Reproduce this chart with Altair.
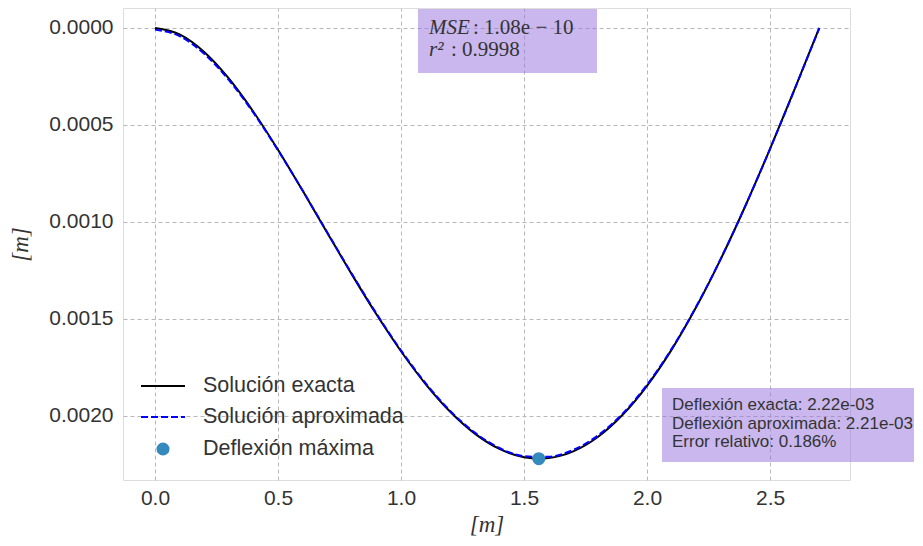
import altair as alt
import pandas as pd

# ---- data ----
x_vals = [0.0, 0.1, 0.2, 0.3, 0.4, 0.5, 0.6, 0.7, 0.8, 0.9, 1.0, 1.1, 1.2, 1.3, 1.4,
          1.5, 1.562, 1.6, 1.7, 1.8, 1.9, 2.0, 2.1, 2.2, 2.3, 2.4, 2.5, 2.6, 2.7]
exact_vals = [0.0, 0.0000330, 0.0001237, 0.0002603, 0.0004316, 0.0006275, 0.0008382,
              0.0010550, 0.0012700, 0.0014759, 0.0016662, 0.0018353, 0.0019783, 0.0020909,
              0.0021698, 0.0022125, 0.0022199, 0.0022171, 0.0021825, 0.0021084, 0.0019953,
              0.0018446, 0.0016581, 0.0014387, 0.0011900, 0.0009162, 0.0006226, 0.0003150, 0.0]
approx_vals = [0.0000080, 0.0000420, 0.0001330, 0.0002680, 0.0004370, 0.0006300, 0.0008380,
               0.0010530, 0.0012670, 0.0014720, 0.0016620, 0.0018310, 0.0019740, 0.0020860,
               0.0021650, 0.0022070, 0.0022110, 0.0022100, 0.0021750, 0.0021010, 0.0019890,
               0.0018390, 0.0016540, 0.0014360, 0.0011890, 0.0009160, 0.0006230, 0.0003160, 0.0000010]
max_x = [1.56]
max_y = [0.00222]

x_ticks = [0.0, 0.5, 1.0, 1.5, 2.0, 2.5]
y_ticks = [0.0, 0.0005, 0.0010, 0.0015, 0.0020]

legend_labels = ["Solución exacta", "Solución aproximada", "Deflexión máxima"]
stats_lines = ["Deflexión exacta: 2.22e-03", "Deflexión aproximada: 2.21e-03", "Error relativo: 0.186%"]

df_exact = pd.DataFrame({"x": x_vals, "y": exact_vals})
df_approx = pd.DataFrame({"x": x_vals, "y": approx_vals})
df_max = pd.DataFrame({"x": max_x, "y": max_y})

W, H = 727, 472
FONT = "Liberation Sans"
SERIF = "Liberation Serif"
TXT = "#333333"

xscale = alt.Scale(domain=[-0.13, 2.825], nice=False, zero=False)
yscale = alt.Scale(domain=[-0.000103, 0.00233], nice=False, zero=False, reverse=True)

xaxis = alt.Axis(values=x_ticks, format=".1f", title="[m]", grid=True, domain=False, ticks=False,
                 labelFontSize=21, labelFont=FONT, labelColor=TXT, labelPadding=7,
                 titleFont=SERIF, titleFontSize=23, titleFontWeight="normal", titleFontStyle="italic",
                 titleColor=TXT, titleY=44, titleBaseline="middle",
                 gridColor="#b8b8b8", gridDash=[4, 3], gridWidth=1)
yaxis = alt.Axis(values=y_ticks, format=".4f", title="[m]", grid=True, domain=False, ticks=False,
                 labelFontSize=21, labelFont=FONT, labelColor=TXT, labelPadding=10,
                 titleFont=SERIF, titleFontSize=23, titleFontWeight="normal", titleFontStyle="italic",
                 titleColor=TXT, titleX=-103, titleY=236, titleAngle=270,
                 titleAlign="center", titleBaseline="middle",
                 gridColor="#b8b8b8", gridDash=[4, 3], gridWidth=1)

exact = alt.Chart(df_exact).mark_line(color="black", strokeWidth=2, interpolate="monotone").encode(
    x=alt.X("x:Q", scale=xscale, axis=xaxis),
    y=alt.Y("y:Q", scale=yscale, axis=yaxis),
)
approx = alt.Chart(df_approx).mark_line(color="#0000ff", strokeWidth=2, strokeDash=[7, 3],
                                        interpolate="monotone").encode(
    x=alt.X("x:Q", scale=xscale),
    y=alt.Y("y:Q", scale=yscale),
)
point = alt.Chart(df_max).mark_circle(color="#348ABD", size=170, opacity=1).encode(
    x=alt.X("x:Q", scale=xscale),
    y=alt.Y("y:Q", scale=yscale),
)

# ---- legend (drawn inside plot) ----
one = pd.DataFrame({"a": [0]})
leg_df = pd.DataFrame({"label": legend_labels, "py": [378, 409, 441]})
leg_line1 = alt.Chart(one).mark_rule(color="black", strokeWidth=2).encode(
    x=alt.value(18), x2=alt.value(62), y=alt.value(378))
leg_line2 = alt.Chart(one).mark_rule(color="#0000ff", strokeWidth=2, strokeDash=[7, 3]).encode(
    x=alt.value(18), x2=alt.value(62), y=alt.value(409))
leg_dot = alt.Chart(one).mark_circle(color="#348ABD", size=170, opacity=1).encode(
    x=alt.value(40), y=alt.value(441))
leg_text = alt.Chart(leg_df).mark_text(align="left", baseline="middle", font=FONT, fontSize=21.5,
                                       color=TXT).encode(
    x=alt.value(80), y=alt.Y("py:Q", scale=None), text="label:N")

# ---- MSE box ----
box1 = alt.Chart(one).mark_rect(color="#9370DB", opacity=0.5).encode(
    x=alt.value(295), x2=alt.value(474), y=alt.value(1), y2=alt.value(65))
mse_it = alt.Chart(pd.DataFrame({"t": ["MSE", "r²"], "py": [20, 42]})).mark_text(
    align="left", baseline="middle", font=SERIF, fontStyle="italic", fontSize=21, color=TXT).encode(
    x=alt.value(306), y=alt.Y("py:Q", scale=None), text="t:N")
mse_up1 = alt.Chart(pd.DataFrame({"t": [": 1.08e − 10"]})).mark_text(
    align="left", baseline="middle", font=SERIF, fontSize=21, color=TXT).encode(
    x=alt.value(350), y=alt.value(20), text="t:N")
mse_up2 = alt.Chart(pd.DataFrame({"t": [": 0.9998"]})).mark_text(
    align="left", baseline="middle", font=SERIF, fontSize=21, color=TXT).encode(
    x=alt.value(328), y=alt.value(42), text="t:N")

# ---- stats box ----
box2 = alt.Chart(one).mark_rect(color="#9370DB", opacity=0.5).encode(
    x=alt.value(539), x2=alt.value(791), y=alt.value(380), y2=alt.value(454))
stats_text = alt.Chart(pd.DataFrame({"t": stats_lines, "py": [397, 415.5, 434]})).mark_text(
    align="left", baseline="middle", font=FONT, fontSize=17, color=TXT).encode(
    x=alt.value(549), y=alt.Y("py:Q", scale=None), text="t:N")

chart = alt.layer(
    exact, approx, point,
    leg_line1, leg_line2, leg_dot, leg_text,
    box1, mse_it, mse_up1, mse_up2,
    box2, stats_text,
).properties(
    width=W, height=H,
    autosize=alt.AutoSizeParams(type="none"),
    padding={"left": 115, "top": 0, "right": 65, "bottom": 58},
).configure_view(
    fill="#eeeeee", stroke=None
).configure(background="white")

chart.save("out.html", embed_options={"renderer": "svg", "actions": False})
